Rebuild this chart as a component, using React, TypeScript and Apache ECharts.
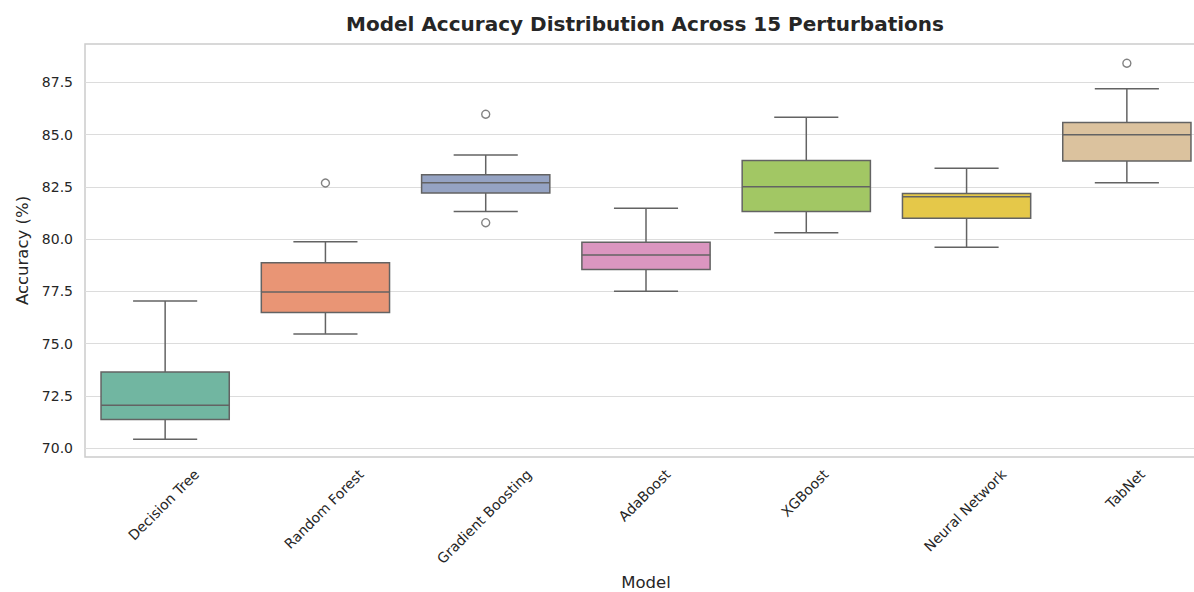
import React, { useEffect, useRef } from "react";
import * as echarts from "echarts";

const categories = [
  "Decision Tree",
  "Random Forest",
  "Gradient Boosting",
  "AdaBoost",
  "XGBoost",
  "Neural Network",
  "TabNet",
];
const whiskerLow = [70.42, 75.46, 81.32, 77.5, 80.3, 79.61, 82.69];
const q1 = [71.37, 76.48, 82.2, 78.54, 81.32, 80.99, 83.73];
const median = [72.05, 77.46, 82.69, 79.23, 82.5, 82.02, 84.99];
const q3 = [73.64, 78.86, 83.07, 79.84, 83.76, 82.18, 85.58];
const whiskerHigh = [77.03, 79.87, 84.02, 81.47, 85.82, 83.38, 87.19];
const outlierModels = ["Random Forest", "Gradient Boosting", "Gradient Boosting", "TabNet"];
const outlierValues = [82.68, 85.97, 80.78, 88.41];
const yTicks = [70, 72.5, 75, 77.5, 80, 82.5, 85, 87.5];
const boxColors = ["#71b6a1", "#e99575", "#95a3c3", "#db96c0", "#a2c764", "#e5c849", "#dbc29e"];

const Y_MIN = 69.57;
const Y_MAX = 89.33;
const FONT = "'DejaVu Sans', sans-serif";
const LINE = "#636363";
const TEXT = "#262626";

function measure(text: string, size: number): number {
  const c = document.createElement("canvas").getContext("2d");
  if (!c) return text.length * size * 0.55;
  c.font = `${size}px 'DejaVu Sans'`;
  return c.measureText(text).width;
}

export default function App() {
  const ref = useRef<HTMLDivElement>(null);
  useEffect(() => {
    document.body.style.margin = "0";
    if (!ref.current) return;
    const chart = echarts.init(ref.current, undefined, { renderer: "svg" });
    const boxData = categories.map((_, i) => [i, whiskerLow[i], q1[i], median[i], q3[i], whiskerHigh[i]]);
    const labelSize = 14;
    const option: any = {
      animation: false,
      backgroundColor: "#ffffff",
      title: {
        text: "Model Accuracy Distribution Across 15 Perturbations",
        left: 645,
        top: 14,
        padding: 0,
        textAlign: "center",
        textStyle: { fontFamily: FONT, fontSize: 20, fontWeight: "bold", color: TEXT },
      },
      grid: {
        left: 85,
        right: -13,
        top: 44,
        bottom: 135,
        outerBoundsMode: "none",
        containLabel: false,
        show: true,
        borderColor: "#cccccc",
        borderWidth: 1.5,
        backgroundColor: "transparent",
      },
      xAxis: {
        type: "category",
        data: categories,
        boundaryGap: true,
        axisLine: { show: false },
        axisTick: { show: false },
        axisLabel: { show: false },
        splitLine: { show: false },
        name: "Model",
        nameLocation: "middle",
        nameGap: 117,
        nameTextStyle: { fontFamily: FONT, fontSize: 16.5, color: TEXT },
      },
      yAxis: {
        type: "value",
        min: Y_MIN,
        max: Y_MAX,
        axisLine: { show: false },
        axisTick: { show: false, customValues: yTicks },
        axisLabel: {
          customValues: yTicks,
          formatter: (v: number) => v.toFixed(1),
          fontFamily: FONT,
          fontSize: 14,
          color: TEXT,
          margin: 12,
        },
        splitLine: { show: true, lineStyle: { color: "#dcdcdc", width: 1.2 } },
        name: "Accuracy (%)",
        nameLocation: "middle",
        nameGap: 53,
        nameTextStyle: { fontFamily: FONT, fontSize: 16.5, color: TEXT },
      },
      series: [
        {
          type: "custom",
          data: boxData,
          encode: { x: 0, y: [1, 2, 3, 4, 5] },
          clip: false,
          renderItem: (params: any, api: any) => {
            const i = api.value(0);
            const pLo = api.coord([i, api.value(1)]);
            const pQ1 = api.coord([i, api.value(2)]);
            const pMed = api.coord([i, api.value(3)]);
            const pQ3 = api.coord([i, api.value(4)]);
            const pHi = api.coord([i, api.value(5)]);
            const pBottom = api.coord([i, Y_MIN]);
            const band = api.size([1, 0])[0];
            const boxW = band * 0.8;
            const capW = band * 0.4;
            const x = pLo[0];
            const ls = { stroke: LINE, lineWidth: 1.5 };
            const name = categories[i];
            const L = measure(name, labelSize);
            const h = labelSize * 1.17;
            const cy = pBottom[1] + 9 + ((L + h) * Math.SQRT1_2) / 2;
            return {
              type: "group",
              children: [
                { type: "line", shape: { x1: x, y1: pQ3[1], x2: x, y2: pHi[1] }, style: ls },
                { type: "line", shape: { x1: x, y1: pQ1[1], x2: x, y2: pLo[1] }, style: ls },
                { type: "line", shape: { x1: x - capW / 2, y1: pHi[1], x2: x + capW / 2, y2: pHi[1] }, style: ls },
                { type: "line", shape: { x1: x - capW / 2, y1: pLo[1], x2: x + capW / 2, y2: pLo[1] }, style: ls },
                {
                  type: "rect",
                  shape: { x: x - boxW / 2, y: pQ3[1], width: boxW, height: pQ1[1] - pQ3[1] },
                  style: { fill: boxColors[i], stroke: LINE, lineWidth: 1.5 },
                },
                { type: "line", shape: { x1: x - boxW / 2, y1: pMed[1], x2: x + boxW / 2, y2: pMed[1] }, style: ls },
                {
                  type: "text",
                  x: x - 1.5,
                  y: cy,
                  rotation: Math.PI / 4,
                  style: {
                    text: name,
                    x: 0,
                    y: 0,
                    align: "center",
                    verticalAlign: "middle",
                    fontFamily: FONT,
                    fontSize: labelSize,
                    fill: TEXT,
                  },
                },
              ],
            };
          },
          z: 3,
        },
        {
          type: "scatter",
          data: outlierModels.map((m, k) => [m, outlierValues[k]]),
          symbol: "circle",
          symbolSize: 8,
          itemStyle: { color: "transparent", borderColor: LINE, borderWidth: 1.4 },
          z: 4,
        },
      ],
    };
    chart.setOption(option);
    return () => chart.dispose();
  }, []);
  return <div ref={ref} style={{ width: 1194, height: 592 }} />;
}
